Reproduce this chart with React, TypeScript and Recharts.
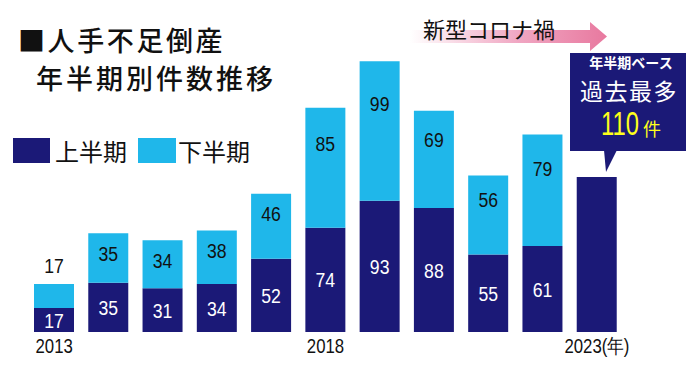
import React from 'react'
import { BarChart, Bar, XAxis, YAxis, LabelList } from 'recharts'

// 人手不足倒産 年半期別件数
const years = ['2013', '2014', '2015', '2016', '2017', '2018', '2019', '2020', '2021', '2022', '2023']
const firstHalf = [17, 35, 31, 34, 52, 74, 93, 88, 55, 61, 110]
const secondHalf: (number | null)[] = [17, 35, 34, 38, 46, 85, 99, 69, 56, 79, null]
const shownTicks = ['2013', '2018', '2023']
const lastYearSuffix = '(年)'

const DARK = '#1b1977'
const LIGHT = '#1fb7ea'
const NUM_FONT = '"Liberation Sans", sans-serif'
const JP_FONT = '"Noto Sans CJK JP", "Noto Sans", sans-serif'

const data = years.map((year, i) => ({ year, first: firstHalf[i], second: secondHalf[i] }))

// the source uses a condensed face, so squeeze the glyphs horizontally
const Narrow = ({ x, y, children, sx = 0.84, ...rest }: any) => (
  <text transform={`translate(${x},${y}) scale(${sx},1)`} x={0} y={0} textAnchor="middle" fontFamily={NUM_FONT} {...rest}>
    {children}
  </text>
)

const YearTick = (props: any) => {
  const { x, y, payload } = props
  const v = payload.value as string
  if (!shownTicks.includes(v)) return null
  const label = v === years[years.length - 1] ? v + lastYearSuffix : v
  return <Narrow x={x} y={y + 13} fontSize={20} fill="#111">{label}</Narrow>
}

const FirstLabel = (props: any) => {
  const { x, y, width, height, value, index } = props
  if (index === years.length - 1 || value == null) return null
  return (
    <Narrow x={x + width / 2} y={y + height / 2} dominantBaseline="central" fontSize={21} fill="#fff">
      {value}
    </Narrow>
  )
}

const SecondLabel = (props: any) => {
  const { x, y, width, height, value } = props
  if (value == null) return null
  const cy = height < 30 ? y - 19 : y + Math.max(20, height * 0.3)
  return (
    <Narrow x={x + width / 2} y={cy} dominantBaseline="central" fontSize={21} fill="#111">
      {value}
    </Narrow>
  )
}

const Overlay = () => (
  <svg width={700} height={371} style={{ position: 'absolute', left: 0, top: 0, pointerEvents: 'none' }}>
    <defs>
      <linearGradient id="covidArrow" x1="0" x2="1" y1="0" y2="0">
        <stop offset="0" stopColor="#fff" />
        <stop offset="0.55" stopColor="#f0a6c2" />
        <stop offset="1" stopColor="#e8799f" />
      </linearGradient>
    </defs>
    {/* title */}
    <text x={18} y={51} fontSize={27} letterSpacing={2.6} fontWeight={500} fontFamily={JP_FONT} fill="#111">■人手不足倒産</text>
    <text x={36} y={89} fontSize={27} letterSpacing={3} fontWeight={500} fontFamily={JP_FONT} fill="#111">年半期別件数推移</text>

    {/* legend */}
    <rect x={13} y={138} width={37} height={25} fill={DARK} />
    <text x={55} y={161} fontSize={24} fontFamily={JP_FONT} fill="#111">上半期</text>
    <rect x={138} y={138} width={38} height={25} fill={LIGHT} />
    <text x={178} y={161} fontSize={24} fontFamily={JP_FONT} fill="#111">下半期</text>

    {/* covid arrow */}
    <path d="M410,30 L590,30 L590,22 L607,36.5 L590,51 L590,43 L410,43 Z" fill="url(#covidArrow)" />
    <text x={423} y={38} fontSize={22} fontFamily={JP_FONT} fill="#111">新型コロナ禍</text>

    {/* callout */}
    <rect x={570} y={53} width={116} height={98} fill={DARK} />
    <path d="M604,150 L617,150 L606,172 Z" fill={DARK} />
    <text x={631} y={68} textAnchor="middle" fontSize={14} fontWeight="bold" fontFamily={JP_FONT} fill="#fff">年半期ベース</text>
    <text x={629} y={100} textAnchor="middle" fontSize={23} letterSpacing={1.5} fontFamily={JP_FONT} fill="#fff">過去最多</text>
    <Narrow x={620} y={135} sx={0.7} fontSize={34} fill="#ffff1a">110</Narrow>
    <text x={643} y={136} fontSize={18} fontFamily={JP_FONT} fill="#ffff1a">件</text>
  </svg>
)

export default function App() {
  return (
    <div style={{ position: 'absolute', left: 0, top: 0, width: 700, height: 371, background: '#fff' }}>
      <BarChart width={700} height={371} data={data} margin={{ top: 50, right: 76, left: 27, bottom: 9 }}>
        <XAxis dataKey="year" axisLine={false} tickLine={false} interval={0} height={30} tick={<YearTick />} />
        <YAxis hide domain={[0, 200]} />
        <Bar dataKey="first" stackId="a" fill={DARK} barSize={40} isAnimationActive={false}>
          <LabelList dataKey="first" content={<FirstLabel />} />
        </Bar>
        <Bar dataKey="second" stackId="a" fill={LIGHT} barSize={40} isAnimationActive={false}>
          <LabelList dataKey="second" content={<SecondLabel />} />
        </Bar>
      </BarChart>
      <Overlay />
    </div>
  )
}
